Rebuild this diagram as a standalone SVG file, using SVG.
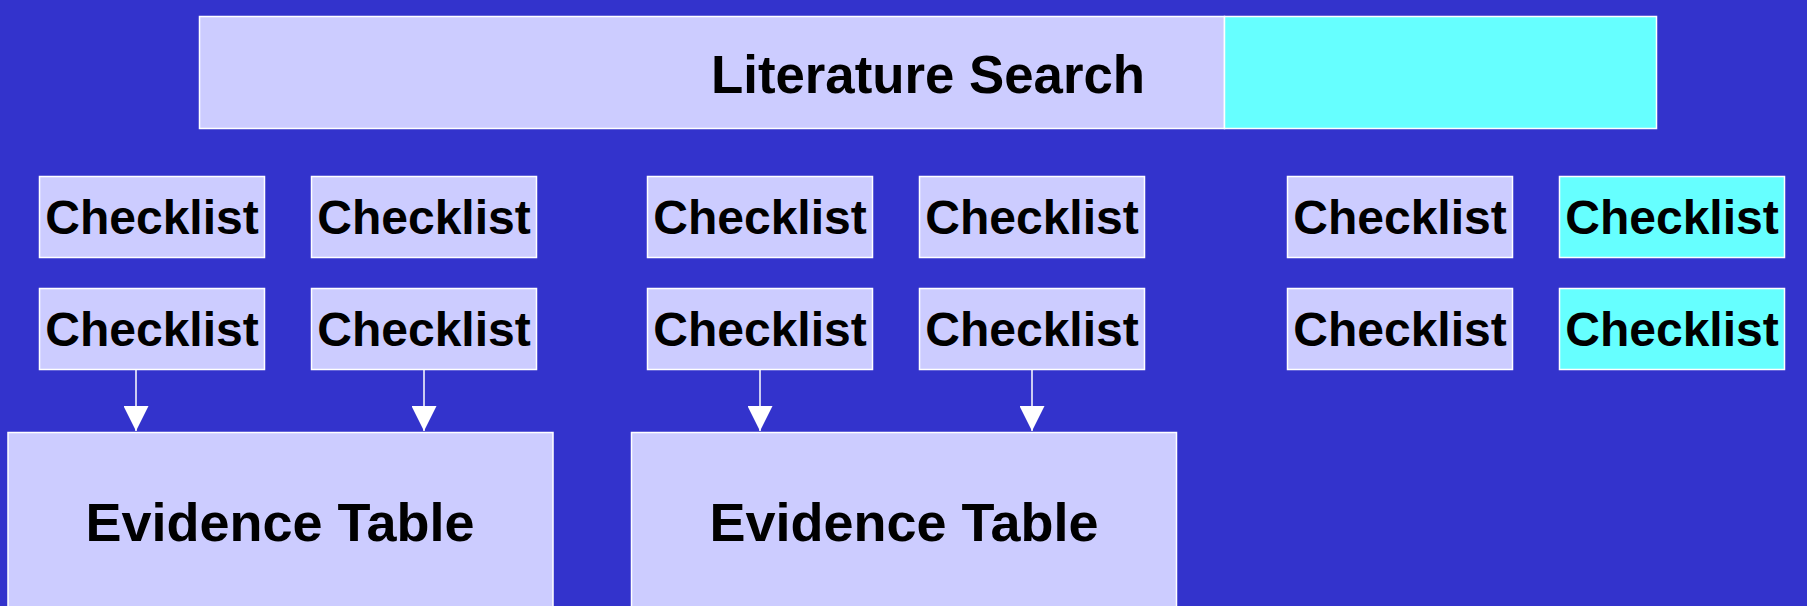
<svg xmlns="http://www.w3.org/2000/svg" width="1807" height="606" viewBox="0 0 1807 606">
<defs>
<style>
.bg{fill:#3333CC}
.lav{fill:#CCCCFF;stroke:#FFFFFF;stroke-width:1.5}
.cy{fill:#66FFFF;stroke:#FFFFFF;stroke-width:1.5}
.t{font-family:"Liberation Sans",Arial,sans-serif;font-weight:bold;fill:#000000;text-anchor:middle}
.ck{font-size:48px}
.big{font-size:54px}
.conn{stroke:#FFFFFF;stroke-width:1.5;fill:none}
</style>
<marker id="arr" viewBox="0 0 25 25" refX="25" refY="12.5" markerWidth="25" markerHeight="25" markerUnits="userSpaceOnUse" orient="auto">
<path d="M0,0 L25,12.5 L0,25 Z" fill="#FFFFFF"/>
</marker>
</defs>
<rect class="bg" x="0" y="0" width="1807" height="606"/>

<g id="literature-search">
<rect class="lav" x="199.5" y="16.5" width="1025" height="112"/>
<rect class="cy" x="1224.5" y="16.5" width="432" height="112"/>
<text class="t big" x="928" y="93" textLength="434" lengthAdjust="spacingAndGlyphs">Literature Search</text>
</g>

<g id="checklist-1"><rect class="lav" x="39.5" y="176.5" width="225" height="81"/><text class="t ck" x="152" y="234">Checklist</text></g>
<g id="checklist-2"><rect class="lav" x="311.5" y="176.5" width="225" height="81"/><text class="t ck" x="424" y="234">Checklist</text></g>
<g id="checklist-3"><rect class="lav" x="39.5" y="288.5" width="225" height="81"/><text class="t ck" x="152" y="346">Checklist</text></g>
<g id="checklist-4"><rect class="lav" x="311.5" y="288.5" width="225" height="81"/><text class="t ck" x="424" y="346">Checklist</text></g>

<g id="checklist-5"><rect class="lav" x="647.5" y="176.5" width="225" height="81"/><text class="t ck" x="760" y="234">Checklist</text></g>
<g id="checklist-6"><rect class="lav" x="919.5" y="176.5" width="225" height="81"/><text class="t ck" x="1032" y="234">Checklist</text></g>
<g id="checklist-7"><rect class="lav" x="647.5" y="288.5" width="225" height="81"/><text class="t ck" x="760" y="346">Checklist</text></g>
<g id="checklist-8"><rect class="lav" x="919.5" y="288.5" width="225" height="81"/><text class="t ck" x="1032" y="346">Checklist</text></g>

<g id="checklist-9"><rect class="lav" x="1287.5" y="176.5" width="225" height="81"/><text class="t ck" x="1400" y="234">Checklist</text></g>
<g id="checklist-10"><rect class="cy" x="1559.5" y="176.5" width="225" height="81"/><text class="t ck" x="1672" y="234">Checklist</text></g>
<g id="checklist-11"><rect class="lav" x="1287.5" y="288.5" width="225" height="81"/><text class="t ck" x="1400" y="346">Checklist</text></g>
<g id="checklist-12"><rect class="cy" x="1559.5" y="288.5" width="225" height="81"/><text class="t ck" x="1672" y="346">Checklist</text></g>

<g id="evidence-table-1"><rect class="lav" x="8" y="432.5" width="545" height="200"/><text class="t big" x="280" y="541">Evidence Table</text></g>
<g id="evidence-table-2"><rect class="lav" x="631.5" y="432.5" width="545" height="200"/><text class="t big" x="904" y="541">Evidence Table</text></g>

<g id="connectors">
<line class="conn" x1="136" y1="369" x2="136" y2="431" marker-end="url(#arr)"/>
<line class="conn" x1="424" y1="369" x2="424" y2="431" marker-end="url(#arr)"/>
<line class="conn" x1="760" y1="369" x2="760" y2="431" marker-end="url(#arr)"/>
<line class="conn" x1="1032" y1="369" x2="1032" y2="431" marker-end="url(#arr)"/>
</g>
</svg>
